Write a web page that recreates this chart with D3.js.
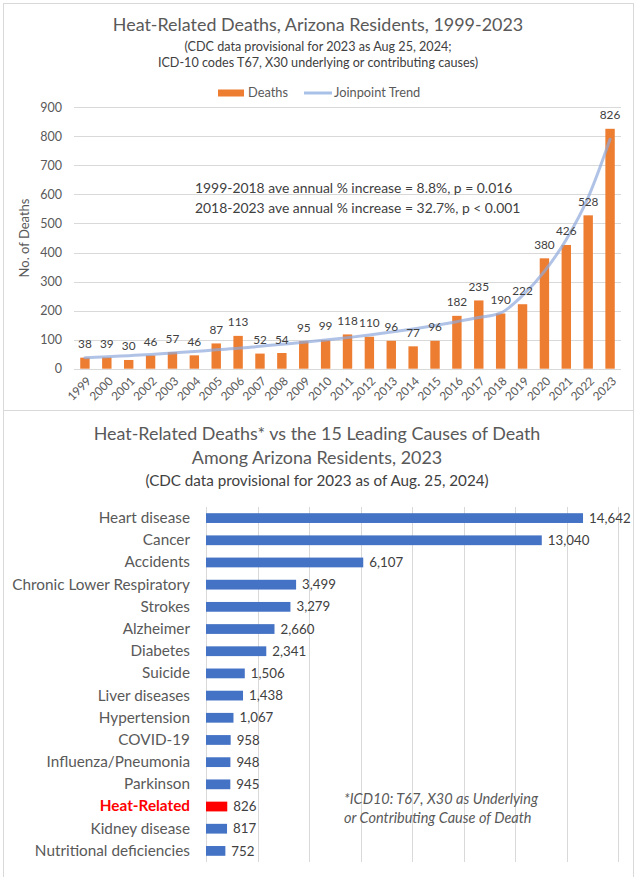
<!DOCTYPE html>
<html>
<head>
<meta charset="utf-8">
<script src="https://cdn.jsdelivr.net/npm/d3@7"></script>
<style>
  body { margin: 0; background: #fff; }
  svg { display: block; font-family: Lato, "Open Sans", sans-serif; }
</style>
</head>
<body>
<svg id="chart"></svg>
<script>
// ---- data: heat deaths by year ----
const years = ['1999','2000','2001','2002','2003','2004','2005','2006','2007','2008','2009','2010',
  '2011','2012','2013','2014','2015','2016','2017','2018','2019','2020','2021','2022','2023'];
const deaths = [38,39,30,46,57,46,87,113,52,54,95,99,118,110,96,77,96,182,235,190,222,380,426,528,826];
// joinpoint trend
const trend = [38,41,45,49,54,59,65,70,77,84,91,99,107,116,126,137,149,162,176,192,252,335,445,590,790];
const yTicks = [0,100,200,300,400,500,600,700,800,900];
const notes = ['1999-2018 ave annual % increase = 8.8%, p = 0.016',
  '2018-2023 ave annual % increase = 32.7%, p < 0.001'];

// ---- data: leading causes 2023 ----
const causes = ['Heart disease','Cancer','Accidents','Chronic Lower Respiratory','Strokes','Alzheimer',
  'Diabetes','Suicide','Liver diseases','Hypertension','COVID-19','Influenza/Pneumonia','Parkinson',
  'Heat-Related','Kidney disease','Nutritional deficiencies'];
const causeDeaths = [14642,13040,6107,3499,3279,2660,2341,1506,1438,1067,958,948,945,826,817,752];
const xTicks = [0,2000,4000,6000,8000,10000,12000,14000,16000];

const W = 636, H = 877;
const grey = '#595959', dark = '#404040', gridC = '#d9d9d9';
const orange = '#ed7d31', blue = '#4472c4';

const svg = d3.select('#chart').attr('width', W).attr('height', H);

// chart frames
svg.append('rect').attr('x', 3.5).attr('y', 3.5).attr('width', 630).attr('height', 407)
    .attr('fill', 'none').attr('stroke', gridC);
svg.append('rect').attr('x', 3.5).attr('y', 410.5).attr('width', 630).attr('height', 480)
    .attr('fill', 'none').attr('stroke', gridC);

// ================= top chart =================
const topG = svg.append('g');

topG.append('text').attr('x', 318).attr('y', 31).attr('text-anchor', 'middle')
    .attr('fill', grey).style('font-size', '17.9px')
    .text('Heat-Related Deaths, Arizona Residents, 1999-2023');
topG.append('text').attr('x', 318).attr('y', 51).attr('text-anchor', 'middle')
    .attr('fill', dark).style('font-size', '12.6px')
    .text('(CDC data provisional for 2023 as Aug 25, 2024;');
topG.append('text').attr('x', 318).attr('y', 67).attr('text-anchor', 'middle')
    .attr('fill', dark).style('font-size', '12.6px')
    .text('ICD-10 codes T67, X30 underlying or contributing causes)');

// legend
const lg = topG.append('g');
lg.append('rect').attr('x', 218).attr('y', 89.5).attr('width', 26).attr('height', 7).attr('fill', orange);
lg.append('text').attr('x', 248).attr('y', 97).attr('fill', grey).style('font-size', '12.8px').text('Deaths');
lg.append('line').attr('x1', 304).attr('x2', 332).attr('y1', 93).attr('y2', 93)
    .attr('stroke', '#a9c1e6').attr('stroke-width', 3);
lg.append('text').attr('x', 334).attr('y', 97).attr('fill', grey).style('font-size', '12.8px').text('Joinpoint Trend');

const x = d3.scaleBand().domain(years).range([74, 621]).paddingInner(0.57).paddingOuter(0.285);
const y = d3.scaleLinear().domain([0, 900]).range([368.7, 107.3]);

// gridlines
topG.append('g').selectAll('line').data(yTicks).join('line')
    .attr('x1', 74).attr('x2', 621)
    .attr('y1', d => Math.round(y(d)) + 0.5).attr('y2', d => Math.round(y(d)) + 0.5)
    .attr('stroke', gridC);

// y axis labels
const yAxis = d3.axisLeft(y).tickValues(yTicks).tickSize(0).tickPadding(0);
topG.append('g').attr('transform', 'translate(62,0)').call(yAxis)
    .call(g => g.select('.domain').remove())
    .call(g => g.selectAll('text').attr('fill', grey).style('font-size', '12.5px').style('font-family', 'Lato'));

topG.append('text').attr('transform', 'translate(29,238) rotate(-90)').attr('text-anchor', 'middle')
    .attr('fill', grey).style('font-size', '13px').text('No. of Deaths');

// x labels rotated
topG.append('g').selectAll('text').data(years).join('text')
    .attr('transform', d => `translate(${x(d) + x.bandwidth() / 2 + 4},379) rotate(-45)`)
    .attr('text-anchor', 'end').attr('dy', '0.35em')
    .attr('fill', grey).style('font-size', '11.8px').text(d => d);

// bars
topG.append('g').selectAll('rect').data(deaths).join('rect')
    .attr('x', (d, i) => x(years[i])).attr('width', x.bandwidth())
    .attr('y', d => y(d)).attr('height', d => y(0) - y(d))
    .attr('fill', orange);

// trend
const line = d3.line().x((d, i) => x(years[i]) + x.bandwidth() / 2).y(d => y(d)).curve(d3.curveMonotoneX);
topG.append('path').datum(trend).attr('d', line)
    .attr('fill', 'none').attr('stroke', '#8eaadb').attr('stroke-opacity', 0.7)
    .attr('stroke-width', 3).attr('stroke-linecap', 'round');

// bar labels
topG.append('g').selectAll('text').data(deaths).join('text')
    .attr('x', (d, i) => x(years[i]) + x.bandwidth() / 2).attr('y', d => y(d) - 9.5)
    .attr('text-anchor', 'middle').attr('fill', dark).style('font-size', '11.8px').text(d => d);

// annotation
topG.append('g').selectAll('text').data(notes).join('text')
    .attr('x', 195).attr('y', (d, i) => 193 + i * 19.5)
    .attr('fill', dark).style('font-size', '13.9px').text(d => d);

// ================= bottom chart =================
const botG = svg.append('g');

botG.append('text').attr('x', 317).attr('y', 440).attr('text-anchor', 'middle')
    .attr('fill', grey).style('font-size', '17.9px')
    .text('Heat-Related Deaths* vs the 15 Leading Causes of Death');
botG.append('text').attr('x', 317).attr('y', 464).attr('text-anchor', 'middle')
    .attr('fill', grey).style('font-size', '17.9px')
    .text('Among Arizona Residents, 2023');
botG.append('text').attr('x', 317).attr('y', 486).attr('text-anchor', 'middle')
    .attr('fill', dark).style('font-size', '15.2px')
    .text('(CDC data provisional for 2023 as of Aug. 25, 2024)');

const xb = d3.scaleLinear().domain([0, 16000]).range([206, 618]);
const yb = d3.scaleBand().domain(causes).range([507, 862]).paddingInner(0.56).paddingOuter(0.28);

botG.append('g').selectAll('line').data(xTicks).join('line')
    .attr('x1', d => Math.round(xb(d)) + 0.5).attr('x2', d => Math.round(xb(d)) + 0.5)
    .attr('y1', 507).attr('y2', 862).attr('stroke', gridC);

botG.append('g').selectAll('rect').data(causeDeaths).join('rect')
    .attr('x', xb(0)).attr('y', (d, i) => yb(causes[i]))
    .attr('width', d => xb(d) - xb(0)).attr('height', yb.bandwidth())
    .attr('fill', (d, i) => causes[i] === 'Heat-Related' ? '#ff0000' : blue);

// category labels
const yAxisB = d3.axisLeft(yb).tickSize(0).tickPadding(0);
botG.append('g').attr('transform', 'translate(190,0)').call(yAxisB)
    .call(g => g.select('.domain').remove())
    .call(g => g.selectAll('text')
        .attr('fill', d => d === 'Heat-Related' ? '#ff0000' : grey)
        .style('font-weight', d => d === 'Heat-Related' ? 'bold' : 'normal')
        .style('font-size', '15.3px').style('font-family', 'Lato'));

// value labels
const fmt = d3.format(',');
botG.append('g').selectAll('text').data(causeDeaths).join('text')
    .attr('x', d => xb(d) + 6).attr('y', (d, i) => yb(causes[i]) + yb.bandwidth() / 2)
    .attr('dy', '0.35em').attr('fill', dark).style('font-size', '13.3px').text(d => fmt(d));

// footnote
botG.append('text').attr('x', 344).attr('y', 804).attr('fill', grey)
    .style('font-size', '14.5px').style('font-style', 'italic')
    .text('*ICD10: T67, X30 as Underlying');
botG.append('text').attr('x', 344).attr('y', 823).attr('fill', grey)
    .style('font-size', '14.5px').style('font-style', 'italic')
    .text('or Contributing Cause of Death');
</script>
</body>
</html>
